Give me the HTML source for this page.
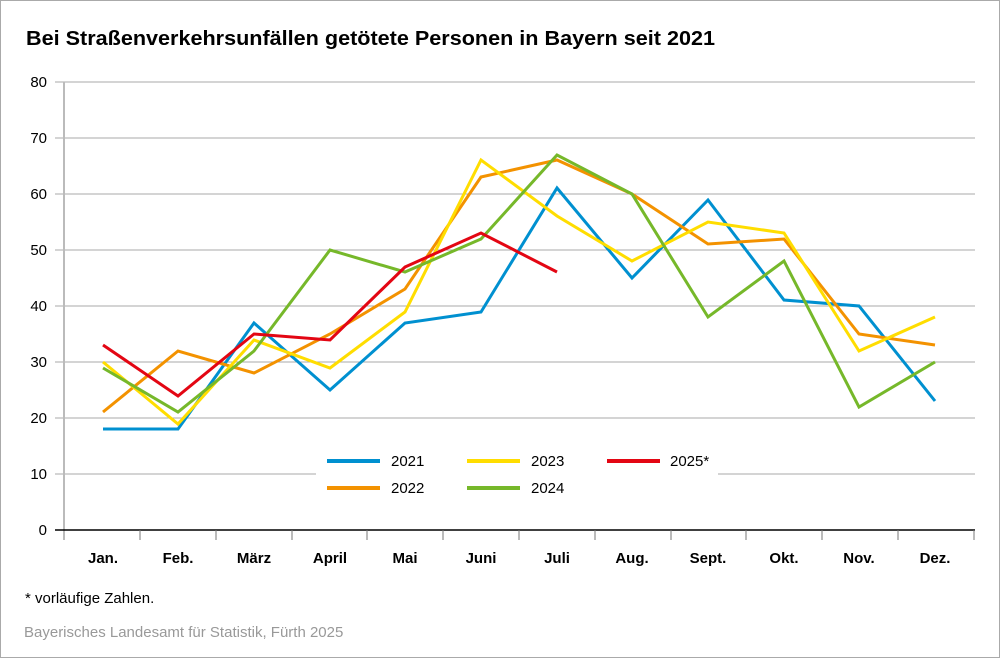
<!DOCTYPE html>
<html><head><meta charset="utf-8"><style>
body{margin:0;background:#fff}
svg{display:block;font-family:"Liberation Sans",Arial,sans-serif}
</style></head><body>
<svg width="1000" height="658" viewBox="0 0 1000 658">
<rect x="0.5" y="0.5" width="999" height="657" fill="#fff" stroke="#aaa"/>
<text x="26" y="45" font-size="20" font-weight="bold" fill="#000" textLength="689" lengthAdjust="spacingAndGlyphs">Bei Straßenverkehrsunfällen getötete Personen in Bayern seit 2021</text>
<g stroke="#aaa" stroke-width="1">
<line x1="55" y1="82" x2="975" y2="82"/><line x1="55" y1="138" x2="975" y2="138"/>
<line x1="55" y1="194" x2="975" y2="194"/><line x1="55" y1="250" x2="975" y2="250"/>
<line x1="55" y1="306" x2="975" y2="306"/><line x1="55" y1="362" x2="975" y2="362"/>
<line x1="55" y1="418" x2="975" y2="418"/><line x1="55" y1="474" x2="975" y2="474"/>
</g>
<line x1="64" y1="82" x2="64" y2="540" stroke="#bbb" stroke-width="2"/>
<line x1="55" y1="530" x2="975" y2="530" stroke="#000" stroke-width="1.5"/>
<g stroke="#777" stroke-width="1">
<line x1="140" y1="530" x2="140" y2="540"/><line x1="216" y1="530" x2="216" y2="540"/><line x1="292" y1="530" x2="292" y2="540"/><line x1="367" y1="530" x2="367" y2="540"/><line x1="443" y1="530" x2="443" y2="540"/><line x1="519" y1="530" x2="519" y2="540"/><line x1="595" y1="530" x2="595" y2="540"/><line x1="671" y1="530" x2="671" y2="540"/><line x1="746" y1="530" x2="746" y2="540"/><line x1="822" y1="530" x2="822" y2="540"/><line x1="898" y1="530" x2="898" y2="540"/><line x1="974" y1="530" x2="974" y2="540"/>
</g>
<g font-size="15" text-anchor="end" fill="#000">
<text x="47" y="87">80</text><text x="47" y="143">70</text><text x="47" y="199">60</text><text x="47" y="255">50</text><text x="47" y="311">40</text><text x="47" y="367">30</text><text x="47" y="423">20</text><text x="47" y="479">10</text><text x="47" y="535">0</text>
</g>
<g font-size="15" font-weight="bold" text-anchor="middle" fill="#000">
<text x="103" y="563">Jan.</text><text x="178" y="563">Feb.</text><text x="254" y="563">März</text><text x="330" y="563">April</text><text x="405" y="563">Mai</text><text x="481" y="563">Juni</text><text x="557" y="563">Juli</text><text x="632" y="563">Aug.</text><text x="708" y="563">Sept.</text><text x="784" y="563">Okt.</text><text x="859" y="563">Nov.</text><text x="935" y="563">Dez.</text>
</g>
<rect x="316" y="441" width="402" height="62" fill="#fff"/>
<g fill="none" stroke-width="3" stroke-linejoin="miter">
<polyline stroke="#0090d0" points="103,429 178,429 254,323 330,390 405,323 481,312 557,188 632,278 708,200 784,300 859,306 935,401"/>
<polyline stroke="#f39200" points="103,412 178,351 254,373 330,334 405,289 481,177 557,160 632,194 708,244 784,239 859,334 935,345"/>
<polyline stroke="#ffdd00" points="103,362 178,424 254,340 330,368 405,312 481,160 557,216 632,261 708,222 784,233 859,351 935,317"/>
<polyline stroke="#76b82a" points="103,368 178,412 254,351 330,250 405,272 481,239 557,155 632,194 708,317 784,261 859,407 935,362"/>
<polyline stroke="#e30613" points="103,345 178,396 254,334 330,340 405,267 481,233 557,272"/>
</g>
<g stroke-width="4">
<line x1="327" y1="461" x2="380" y2="461" stroke="#0090d0"/>
<line x1="327" y1="488" x2="380" y2="488" stroke="#f39200"/>
<line x1="467" y1="461" x2="520" y2="461" stroke="#ffdd00"/>
<line x1="467" y1="488" x2="520" y2="488" stroke="#76b82a"/>
<line x1="607" y1="461" x2="660" y2="461" stroke="#e30613"/>
</g>
<g font-size="15" fill="#000">
<text x="391" y="466">2021</text><text x="391" y="493">2022</text>
<text x="531" y="466">2023</text><text x="531" y="493">2024</text>
<text x="670" y="466">2025*</text>
</g>
<text x="25" y="603" font-size="15" fill="#000">* vorläufige Zahlen.</text>
<text x="24" y="637" font-size="15" fill="#999">Bayerisches Landesamt für Statistik, Fürth 2025</text>
</svg>
</body></html>
